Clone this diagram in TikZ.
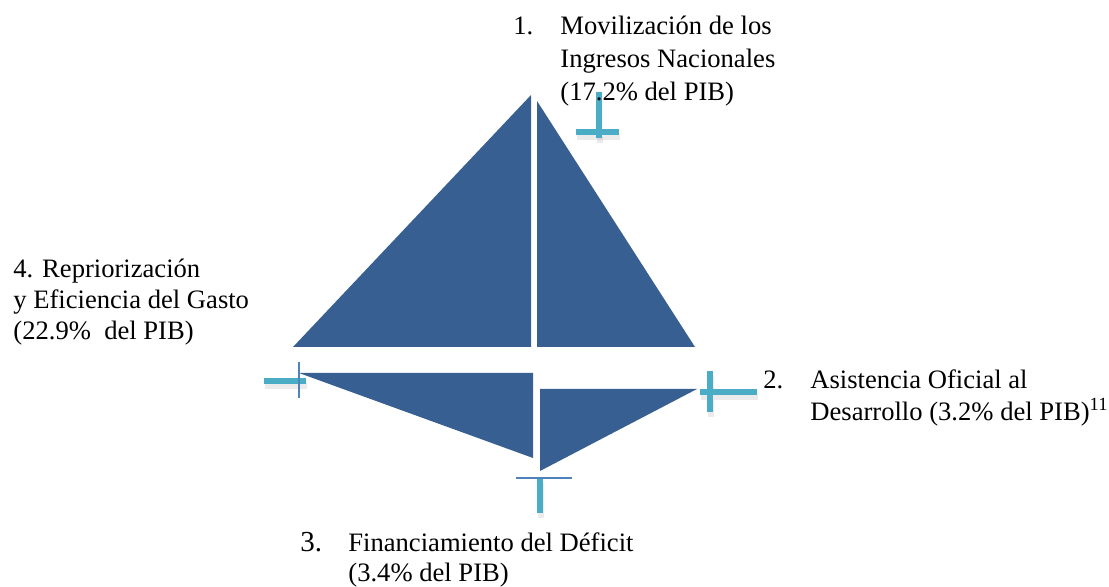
\documentclass[tikz,border=0pt]{standalone}
\usepackage{fontspec}
\setmainfont{Liberation Serif}
\usetikzlibrary{positioning}
\definecolor{sailblue}{RGB}{55,95,146}
\definecolor{barcyan}{RGB}{75,172,198}
\definecolor{barblue}{RGB}{79,129,189}

\begin{document}
\begin{tikzpicture}[x=0.5pt,y=-0.5pt,
                    sail/.style={fill=sailblue,draw=none},
                    crossbar/.style={draw=barcyan,line width=2.6pt},
                    thinbar/.style={draw=barblue,line width=1pt},
                    barshadow/.style={draw=black,opacity=0.08,line width=3.4pt,shift={(1,5)}},
                    label node/.style={anchor=base west,inner sep=0pt}]
  \useasboundingbox (0,0) rectangle (1109,587);

  % sails
  \fill[sail] (531,95) -- (531,347) -- (293,347) -- cycle;
  \fill[sail] (537,101) -- (537,347) -- (695,347) -- cycle;
  % hull
  \fill[sail] (299,373) -- (533,373) -- (533,458) -- cycle;
  \fill[sail] (540,389) -- (697,389) -- (540,471) -- cycle;

  % shadows
  \draw[barshadow] (576,132) -- (619,132);
  \draw[barshadow] (599,132) -- (599,138);
  \draw[barshadow] (264,381) -- (306,381);
  \draw[barshadow] (700,392) -- (757,392) (710,371) -- (710,412);
  \draw[barshadow] (540,478) -- (540,513);

  % crosses
  \draw[crossbar] (599,92) -- (599,138);
  \draw[crossbar] (576,132) -- (619,132);
  \draw[crossbar] (264,381) -- (306,381);
  \draw[thinbar] (299,362) -- (299,398);
  \draw[crossbar] (710,371) -- (710,412);
  \draw[crossbar] (700,392) -- (757,392);
  \draw[crossbar] (540,478) -- (540,513);
  \draw[thinbar] (516,478) -- (572,478);

  % labels
  \node[label node,font=\fontsize{13.3}{16.3}\selectfont] (ingresos) at (513,35)
    {\begin{tabular}[t]{@{}p{23.5pt}@{}l@{}}
      1. & Movilización de los\\
         & Ingresos Nacionales\\
         & (17.2\% del PIB)
     \end{tabular}};
  \node[label node,font=\fontsize{13.3}{15}\selectfont] (asistencia) at (763,389)
    {\begin{tabular}[t]{@{}p{23.5pt}@{}l@{}}
      2. & Asistencia Oficial al\\
         & Desarrollo (3.2\% del PIB)\textsuperscript{11}
     \end{tabular}};
  \node[label node,font=\fontsize{13.3}{15}\selectfont] (deficit) at (300,552)
    {\begin{tabular}[t]{@{}p{24pt}@{}l@{}}
      {\fontsize{14.5}{15}\selectfont 3.} & Financiamiento del Déficit\\
         & (3.4\% del PIB)
     \end{tabular}};
  \node[label node,font=\fontsize{13.3}{15.5}\selectfont] (gasto) at (13,278)
    {\begin{tabular}[t]{@{}l@{}}
      4. Repriorización\\
      y Eficiencia del Gasto\\
      (22.9\%\ \ del PIB)
     \end{tabular}};
\end{tikzpicture}
\end{document}
